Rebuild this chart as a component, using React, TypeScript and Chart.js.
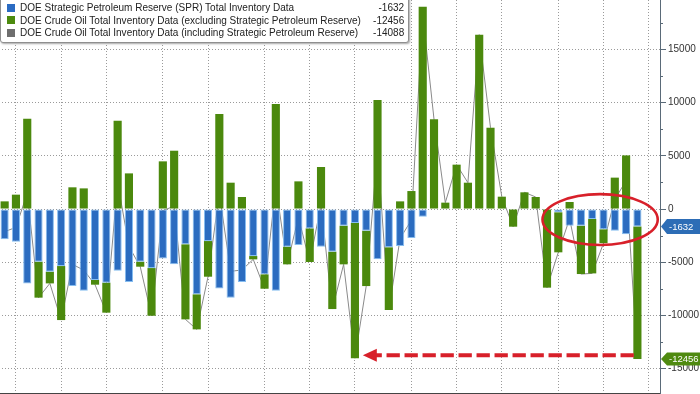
import React, { useEffect, useRef } from "react";
import { Chart, registerables } from "chart.js";

Chart.register(...registerables);

// Weekly change, thousand barrels
const SPR_CHANGE = [
  -2850, -3070, -6990, -4950, -5890, -5360, -7240, -7680, -6670, -6920,
  -5800, -6860, -4950, -5550, -4640, -5200, -3320, -8020, -3010, -7460,
  -8330, -6860, -4420, -6140, -7680, -3540, -3380, -1820, -3540, -4010,
  -1570, -1320, -2040, -4730, -3600, -3480, -2730, -720, 0, 0,
  0, 0, 0, 0, 0, 0, 0, 0, 0, -310,
  -1570, -1570, -940, -1910, -2040, -2380, -1632,
];
const COMMERCIAL_CHANGE = [
  720, 1350, 8490, -3380, -1100, -5075, 2040, 1940, -440, -2820,
  8300, 3350, -470, -4480, 4480, 5480, -7050, -3290, -3350, 8930,
  2475, 1130, -310, -1350, 9870, -1660, 2600, -3160, 3950, -5390,
  -3630, -12700, -5200, 10240, -5890, 720, 1690, 19020, 8430, 600,
  4170, 2475, 16390, 7640, 1160, -1660, 1570, 1130, -7390, -3760,
  660, -4540, -5110, -1300, 2950, 5040, -12456,
];
const TOTAL_CHANGE = SPR_CHANGE.map((v, i) => v + COMMERCIAL_CHANGE[i]);

const SERIES_NAMES = [
  "DOE Strategic Petroleum Reserve (SPR) Total Inventory Data",
  "DOE Crude Oil Total Inventory Data (excluding Strategic Petroleum Reserve)",
  "DOE Crude Oil Total Inventory Data (including Strategic Petroleum Reserve)",
];
// week indices where a new month starts (vertical grid lines)
const MONTH_START_WEEKS = [1, 5, 9, 14, 18, 23, 27, 31, 36, 40, 44, 49, 53, 57];
const Y_TICKS = [-15000, -10000, -5000, 0, 5000, 10000, 15000, 20000];
const Y_MIN = -17290;
const Y_MAX = 20490;
const X_MIN = -0.5;
const X_MAX = 58.0;

// annotations in data units
const ARROW = { fromWeek: 55.85, toWeek: 31.7, value: -13750 };
const ELLIPSE = { fromWeek: 47.6, toWeek: 57.8, top: 1400, bottom: -3380 };

const BLUE = "#2b6cc0";
const BLUE_EDGE = "#86bdf0";
const GREEN = "#4b890d";
const GRAY = "#8a8a8a";
const RED = "#d8202a";
const FONT = '"Liberation Sans", Arial, sans-serif';

const overlayPlugin = {
  id: "overlay",
  afterDatasetsDraw(chart: any) {
    const { ctx, scales } = chart;
    const x = scales.x;
    const y = scales.y;
    ctx.save();
    // ellipse
    const ex1 = x.getPixelForValue(ELLIPSE.fromWeek);
    const ex2 = x.getPixelForValue(ELLIPSE.toWeek);
    const ey1 = y.getPixelForValue(ELLIPSE.top);
    const ey2 = y.getPixelForValue(ELLIPSE.bottom);
    ctx.strokeStyle = RED;
    ctx.lineWidth = 2.6;
    ctx.beginPath();
    ctx.ellipse((ex1 + ex2) / 2, (ey1 + ey2) / 2, (ex2 - ex1) / 2, (ey2 - ey1) / 2, 0, 0, Math.PI * 2);
    ctx.stroke();
    // dashed arrow
    const ay = y.getPixelForValue(ARROW.value);
    const tip = x.getPixelForValue(ARROW.toWeek);
    const end = x.getPixelForValue(ARROW.fromWeek);
    const head = 14;
    ctx.fillStyle = RED;
    ctx.beginPath();
    ctx.moveTo(tip, ay);
    ctx.lineTo(tip + head, ay - 6.5);
    ctx.lineTo(tip + head, ay + 6.5);
    ctx.closePath();
    ctx.fill();
    ctx.strokeStyle = RED;
    ctx.lineWidth = 4;
    ctx.setLineDash([13.3, 4.7]);
    ctx.lineDashOffset = 7.3;
    ctx.beginPath();
    ctx.moveTo(tip + head - 1, ay);
    ctx.lineTo(end, ay);
    ctx.stroke();
    ctx.restore();
  },
  afterDraw(chart: any) {
    const { ctx, scales, chartArea, width } = chart;
    const y = scales.y;
    ctx.save();
    // minor ticks
    ctx.strokeStyle = "#5a6a78";
    ctx.lineWidth = 1;
    for (let v = -17500; v <= 20000; v += 2500) {
      if (v % 5000 === 0) continue;
      const py = Math.round(y.getPixelForValue(v)) + 0.5;
      if (py < chartArea.top || py > chartArea.bottom) continue;
      ctx.beginPath();
      ctx.moveTo(chartArea.right, py);
      ctx.lineTo(chartArea.right + 3, py);
      ctx.stroke();
    }
    // last value tags
    const last = SPR_CHANGE.length - 1;
    const tag = (value: number, text: string, color: string, h: number) => {
      const cy = y.getPixelForValue(value);
      const left = chartArea.right + 1;
      ctx.fillStyle = color;
      ctx.beginPath();
      ctx.moveTo(left, cy);
      ctx.lineTo(left + 6, cy - h / 2);
      ctx.lineTo(width, cy - h / 2);
      ctx.lineTo(width, cy + h / 2);
      ctx.lineTo(left + 6, cy + h / 2);
      ctx.closePath();
      ctx.fill();
      ctx.fillStyle = "#ffffff";
      ctx.font = "9.5px " + FONT;
      ctx.textBaseline = "middle";
      ctx.textAlign = "left";
      ctx.fillText(text, left + 8, cy + 0.5);
    };
    tag(SPR_CHANGE[last], String(SPR_CHANGE[last]), "#2d6db6", 15);
    tag(TOTAL_CHANGE[last], String(COMMERCIAL_CHANGE[last]), "#4f8a10", 13);
    ctx.restore();
  },
};

export default function App() {
  const ref = useRef<HTMLCanvasElement | null>(null);
  useEffect(() => {
    if (!ref.current) return;
    const chart = new Chart(ref.current, {
      type: "bar",
      data: {
        datasets: [
          {
            type: "bar",
            label: SERIES_NAMES[0],
            data: SPR_CHANGE.map((v, i) => ({ x: i, y: v })),
            backgroundColor: BLUE,
            borderColor: BLUE_EDGE,
            borderWidth: (c: any) => (c.raw && c.raw.y === 0 ? 0 : 1),
            borderSkipped: false,
            stack: "inv",
            order: 1,
          },
          {
            type: "bar",
            label: SERIES_NAMES[1],
            data: COMMERCIAL_CHANGE.map((v, i) => ({ x: i, y: v })),
            backgroundColor: GREEN,
            borderWidth: 0,
            stack: "inv",
            order: 1,
          },
          {
            type: "line",
            label: SERIES_NAMES[2],
            data: TOTAL_CHANGE.map((v, i) => ({ x: i, y: v })),
            borderColor: GRAY,
            borderWidth: 1,
            pointRadius: 0,
            tension: 0,
            stack: "total",
            order: 3,
          },
        ],
      } as any,
      options: {
        animation: false,
        responsive: false,
        maintainAspectRatio: false,
        events: [],
        layout: { padding: 0 },
        plugins: { legend: { display: false }, tooltip: { enabled: false } },
        scales: {
          x: {
            type: "linear",
            min: X_MIN,
            max: X_MAX,
            offset: false,
            stacked: true,
            afterBuildTicks: (s: any) => {
              s.ticks = MONTH_START_WEEKS.map((v) => ({ value: v }));
            },
            afterFit: (s: any) => {
              s.height = 1;
              s.paddingLeft = 0;
              s.paddingRight = 0;
            },
            ticks: { display: false },
            grid: { color: "#9a9a9a", drawTicks: false, lineWidth: 1, offset: false },
            border: { display: true, color: "#444", width: 1, dash: [1, 2] },
          },
          y: {
            type: "linear",
            position: "right",
            min: Y_MIN,
            max: Y_MAX,
            stacked: true,
            afterBuildTicks: (s: any) => {
              s.ticks = Y_TICKS.map((v) => ({ value: v }));
            },
            afterFit: (s: any) => {
              s.width = 40;
              s.paddingTop = 0;
              s.paddingBottom = 0;
            },
            ticks: {
              color: "#333",
              font: { family: FONT, size: 10 },
              padding: 2,
              callback: (v: any) => String(v),
            },
            grid: {
              color: "#9a9a9a",
              lineWidth: 1,
              tickLength: 6,
              tickColor: "#5a6a78",
              tickBorderDash: [],
            },
            border: { display: true, color: "#5a6a78", width: 1, dash: [1, 2] },
          },
        },
      } as any,
      plugins: [overlayPlugin],
    });
    return () => chart.destroy();
  }, []);

  const lastIdx = SPR_CHANGE.length - 1;
  const legendValues = [SPR_CHANGE[lastIdx], COMMERCIAL_CHANGE[lastIdx], TOTAL_CHANGE[lastIdx]];
  const legendColors = ["#2b6bc2", "#4c8a0e", "#6e6e6e"];

  return (
    <div
      style={{
        position: "fixed",
        left: 0,
        top: 0,
        width: 700,
        height: 394,
        overflow: "hidden",
        background: "#fff",
      }}
    >
      <canvas
        ref={ref}
        width={701}
        height={403}
        style={{ position: "absolute", left: -1, top: -9, width: 701, height: 403 }}
      />
      <div
        style={{
          position: "absolute",
          left: 0,
          top: -10,
          width: 407,
          height: 51,
          background: "#fff",
          border: "1px solid #8f8f8f",
          borderRadius: "0 0 3px 3px",
          boxShadow: "1px 1px 2px rgba(0,0,0,0.35)",
          fontFamily: FONT,
          fontSize: 11,
          color: "#222",
        }}
      >
        {SERIES_NAMES.map((name, i) => (
          <div
            key={name}
            style={{
              position: "absolute",
              left: 0,
              right: 0,
              top: 10 + i * 12.6,
              height: 13,
              lineHeight: "13px",
              whiteSpace: "nowrap",
            }}
          >
            <span
              style={{
                position: "absolute",
                left: 6,
                top: 2.5,
                width: 8,
                height: 8,
                background: legendColors[i],
              }}
            />
            <span
              style={{
                position: "absolute",
                left: 19,
                transform: "scaleX(0.91)",
                transformOrigin: "left center",
              }}
            >
              {name}
            </span>
            <span
              style={{
                position: "absolute",
                right: 4,
                transform: "scaleX(0.91)",
                transformOrigin: "right center",
              }}
            >
              {legendValues[i]}
            </span>
          </div>
        ))}
      </div>
    </div>
  );
}
